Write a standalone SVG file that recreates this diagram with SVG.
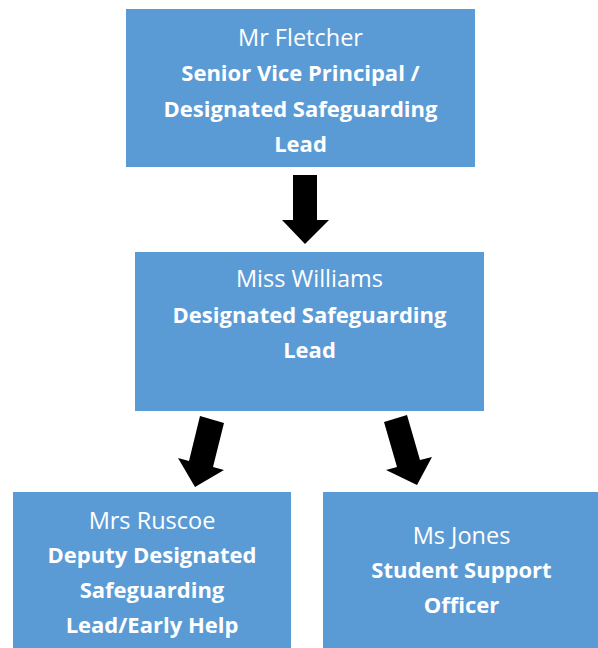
<svg xmlns="http://www.w3.org/2000/svg" width="598" height="648" viewBox="0 0 598 648">
<style>
.box{fill:#5B9BD5}
text{font-family:"Open Sans","Liberation Sans",sans-serif;font-size:23.5px;fill:#FFFFFF;text-anchor:middle}
.b{font-weight:bold;font-size:22px}
.arrow{fill:#000000}
</style>
<rect x="0" y="0" width="598" height="648" fill="#FFFFFF"/>
<g id="connectors">
<polygon class="arrow" points="293,175 317,175 317,220 329,220 305,244 282,220 293,220"/>
<polygon class="arrow" points="200,416 224,423 213,467 224,470 195,487 178,458 189,461"/>
<polygon class="arrow" points="384,422 407,415 420,460 432,457 417,485 386,470 397,467"/>
</g>
<g id="node-fletcher">
<rect class="box" x="126" y="9" width="349" height="158"/>
<text x="300.5" y="46">Mr Fletcher</text>
<text class="b" x="300.5" y="81">Senior Vice Principal /</text>
<text class="b" x="300.5" y="116.5">Designated Safeguarding</text>
<text class="b" x="300.5" y="151.5">Lead</text>
</g>
<g id="node-williams">
<rect class="box" x="135" y="252" width="349" height="159"/>
<text x="309.5" y="286.7">Miss Williams</text>
<text class="b" x="309.5" y="323.3">Designated Safeguarding</text>
<text class="b" x="309.5" y="358.3">Lead</text>
</g>
<g id="node-ruscoe">
<rect class="box" x="13" y="492" width="278" height="156"/>
<text x="152" y="529.3">Mrs Ruscoe</text>
<text class="b" x="152" y="562.7">Deputy Designated</text>
<text class="b" x="152" y="598.3">Safeguarding</text>
<text class="b" x="152" y="633.3">Lead/Early Help</text>
</g>
<g id="node-jones">
<rect class="box" x="323" y="492" width="277" height="156"/>
<text x="461.5" y="544">Ms Jones</text>
<text class="b" x="461.5" y="578.3">Student Support</text>
<text class="b" x="461.5" y="613.3">Officer</text>
</g>
</svg>
